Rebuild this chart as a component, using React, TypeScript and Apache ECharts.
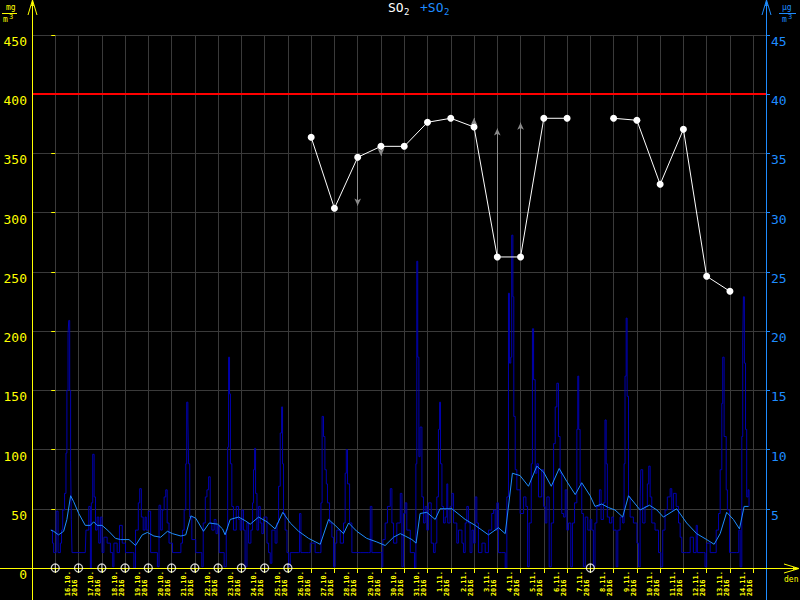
import React, { useEffect, useRef } from 'react';
import * as echarts from 'echarts';

// ---- data -------------------------------------------------------------
const dayLabels = [
  '16.10.', '17.10.', '18.10.', '19.10.', '20.10.', '21.10.', '22.10.', '23.10.',
  '24.10.', '25.10.', '26.10.', '27.10.', '28.10.', '29.10.', '30.10.', '31.10.',
  '1.11.', '2.11.', '3.11.', '4.11.', '5.11.', '6.11.', '7.11.', '8.11.',
  '9.11.', '10.11.', '11.11.', '12.11.', '13.11.', '14.11.',
];
const yearLabel = '2016';

// daily SO2 (left axis), index = day from 16.10.
const dailySO2: (number | null)[] = [
  null, null, null, null, null, null, null, null, null, null, null,
  363.6, 303.7, 346.8, 356, 356, 376.3, 379.7, 372.3, 262.6, 262.6,
  379.7, 379.7, null, 379.7, 378, 324, 370.4, 246.3, 233.6,
];

// change arrows: [day, from, to]
const changeArrows: [number, number, number][] = [
  [13, 346.8, 306],
  [14, 356, 348],
  [18, 372.3, 380],
  [19, 262.6, 371],
  [20, 262.6, 376],
];

const limitValue = 400;

// hourly SO2 (right axis, µg/m3), [day offset, value]
const hourlySO2: [number, number][] = [
  [-0.19, 3.2], [-0.12, 2.1], [-0.07, 1.3], [0.04, 4.8], [0.12, 1.3], [0.22, 2.1], [0.27, 3.2], [0.32, 4.9],
  [0.40, 6.3], [0.46, 9.7], [0.50, 15.0], [0.55, 19.8], [0.58, 20.9], [0.62, 15.0], [0.66, 9.1], [0.69, 4.1],
  [0.72, 1.3], [1.01, 1.3], [1.29, 1.3], [1.32, 3.2], [1.44, 5.2], [1.51, 0], [1.55, 5.5], [1.61, 9.6],
  [1.67, 6.0], [1.73, 3.2], [1.80, 4.3], [1.87, 2.1], [1.94, 4.3], [2.01, 1.3], [2.09, 2.6], [2.23, 2.1],
  [2.37, 1.3], [2.47, 0.1], [2.52, 2.1], [2.66, 1.3], [2.76, 3.6], [2.88, 2.1], [3.02, 1.3], [3.31, 1.3],
  [3.38, 0], [3.45, 3.2], [3.57, 5.5], [3.63, 6.7], [3.70, 4.3], [3.78, 3.2], [3.86, 4.3], [3.91, 3.2],
  [4.00, 4.8], [4.10, 1.3], [4.24, 1.3], [4.39, 0.1], [4.46, 5.3], [4.53, 3.2], [4.60, 4.9], [4.68, 6.0],
  [4.75, 6.6], [4.81, 3.8], [4.89, 2.1], [5.04, 1.3], [5.32, 1.3], [5.40, 2.1], [5.47, 3.2], [5.54, 4.9],
  [5.61, 8.8], [5.65, 14.0], [5.70, 12.5], [5.73, 8.8], [5.78, 4.3], [5.87, 2.4], [6.04, 1.3], [6.26, 1.3],
  [6.30, 0.1], [6.36, 3.8], [6.45, 6.0], [6.52, 6.6], [6.59, 7.7], [6.66, 3.8], [6.73, 3.2], [6.83, 4.1],
  [6.91, 2.9], [6.98, 3.6], [7.05, 1.3],
  [7.26, 0.1], [7.35, 3.2], [7.41, 10.2], [7.45, 17.8], [7.49, 14.7], [7.53, 8.8], [7.59, 5.2], [7.66, 3.2],
  [7.78, 5.2], [7.88, 4.1], [7.95, 3.2], [8.02, 4.9], [8.09, 3.2], [8.16, 0.1], [8.24, 3.8], [8.31, 2.1],
  [8.41, 3.2], [8.48, 5.5], [8.52, 8.3], [8.57, 10.1], [8.61, 6.3], [8.67, 3.2], [8.74, 5.2], [8.81, 3.8],
  [8.88, 2.9], [8.95, 4.3], [9.10, 2.1], [9.17, 1.3], [9.24, 0.4], [9.31, 3.2], [9.45, 2.1], [9.53, 3.8],
  [9.60, 6.9], [9.67, 11.4], [9.73, 13.6], [9.77, 8.8], [9.81, 4.6], [9.88, 3.2], [9.96, 1.3], [10.03, 0.1],
  [10.10, 1.3], [10.46, 1.3], [10.50, 4.6], [10.56, 1.3], [10.89, 1.3], [10.96, 2.1], [11.17, 1.3], [11.36, 1.3],
  [11.42, 5.5], [11.47, 12.8], [11.53, 11.1], [11.59, 8.3], [11.65, 7.1], [11.70, 5.5], [11.79, 3.8], [11.89, 2.6],
  [11.96, 0.1], [12.03, 2.1], [12.10, 3.2], [12.25, 2.1], [12.39, 3.8], [12.46, 8.0], [12.51, 10.0], [12.56, 7.1],
  [12.65, 3.8], [12.75, 1.3], [13.11, 1.3], [13.47, 1.3], [13.54, 5.2], [13.61, 1.3], [13.97, 1.3], [14.04, 0.1],
  [14.08, 2.4], [14.18, 3.8], [14.28, 5.2], [14.40, 6.7], [14.47, 3.8], [14.54, 2.1], [14.68, 3.8], [14.83, 6.3],
  [14.90, 0.1], [14.97, 4.6], [15.04, 5.5], [15.11, 3.2], [15.26, 1.3],
  [15.33, 1.3], [15.44, 0], [15.50, 8.8], [15.54, 25.9], [15.58, 17.8], [15.63, 9.4], [15.68, 11.9], [15.76, 6.0],
  [15.83, 3.8], [15.90, 5.2], [15.97, 3.2], [16.04, 5.5], [16.16, 2.1], [16.26, 1.3], [16.33, 2.1], [16.40, 6.0],
  [16.47, 11.7], [16.52, 14.0], [16.56, 8.8], [16.62, 5.2], [16.69, 3.8], [16.76, 4.3], [16.83, 7.1], [16.87, 3.8],
  [16.97, 5.2], [17.05, 6.3], [17.12, 3.8], [17.26, 2.1], [17.33, 3.2], [17.48, 2.1], [17.55, 1.3], [17.62, 3.8],
  [17.69, 5.2], [17.76, 3.8], [17.83, 1.3], [17.91, 3.2], [17.98, 2.1], [18.05, 6.0], [18.12, 3.8], [18.19, 1.3],
  [18.34, 2.1], [18.48, 1.3], [18.62, 3.2], [18.76, 4.6], [18.84, 4.9], [18.91, 3.2], [18.98, 5.5], [19.05, 1.3],
  [19.19, 1.3], [19.34, 0], [19.41, 6.0], [19.48, 23.2], [19.52, 17.3], [19.58, 17.8], [19.62, 28.1], [19.67, 22.9],
  [19.71, 12.8], [19.77, 8.3], [19.84, 6.6], [19.98, 4.6], [20.13, 6.0], [20.23, 5.2], [20.30, 0.1], [20.37, 3.8],
  [20.46, 8.8], [20.51, 20.2], [20.56, 15.9], [20.63, 8.0], [20.70, 8.8], [20.77, 6.0], [20.91, 8.3], [20.99, 5.2],
  [21.06, 3.8], [21.13, 6.0], [21.23, 0.1], [21.32, 3.8], [21.42, 10.5], [21.49, 13.6], [21.56, 15.6], [21.63, 11.1],
  [21.70, 8.0], [21.77, 4.6], [21.85, 4.3], [21.92, 6.6], [21.99, 3.2], [22.06, 3.8], [22.16, 0.1], [22.23, 3.8],
  [22.32, 5.5], [22.42, 11.7], [22.46, 16.2], [22.50, 11.7], [22.56, 7.1], [22.63, 4.6], [22.70, 0.1], [22.78, 4.3],
  [22.89, 3.2],
  [22.99, 4.1], [23.06, 3.2], [23.13, 0.1], [23.20, 3.8], [23.28, 5.2], [23.39, 6.6], [23.46, 4.1], [23.56, 5.5],
  [23.63, 12.5], [23.68, 8.8], [23.73, 4.3], [23.82, 3.8], [23.92, 4.3], [23.99, 3.2], [24.11, 0.1], [24.18, 3.2],
  [24.28, 4.3], [24.39, 3.8], [24.45, 8.8], [24.49, 16.2], [24.54, 21.1], [24.58, 14.5], [24.64, 6.0], [24.71, 4.3],
  [24.85, 3.8], [25.00, 2.1], [25.07, 0.1], [25.14, 6.0], [25.17, 8.3], [25.25, 3.8], [25.35, 5.2], [25.45, 7.1],
  [25.51, 8.6], [25.57, 6.0], [25.64, 3.8], [25.78, 3.2], [25.93, 1.3], [26.03, 0.1], [26.11, 3.2], [26.21, 4.9],
  [26.31, 6.0], [26.43, 6.7], [26.50, 4.9], [26.57, 6.3], [26.69, 5.2], [26.79, 3.8], [26.86, 2.6], [26.93, 1.3],
  [27.14, 1.3], [27.29, 2.6], [27.43, 1.3], [27.55, 3.6], [27.60, 1.3], [27.86, 1.3], [27.93, 0.1], [28.00, 2.1],
  [28.15, 1.3], [28.32, 1.3], [28.41, 3.2], [28.51, 4.6], [28.58, 8.3], [28.65, 13.9], [28.69, 17.8], [28.75, 11.1],
  [28.84, 6.6], [28.89, 4.9], [28.98, 1.3], [29.08, 1.3], [29.29, 1.3], [29.38, 3.2], [29.44, 0.1], [29.51, 11.1],
  [29.55, 19.0], [29.58, 22.9], [29.62, 17.3], [29.67, 11.7], [29.72, 6.0], [29.78, 6.6], [29.82, 5.2],
];

// running average SO2 (right axis, µg/m3)
const avgSO2: [number, number][] = [
  [-0.19, 3.2], [-0.07, 3.1], [0.14, 2.8], [0.36, 3.1], [0.50, 4.1], [0.66, 6.1], [0.79, 5.6], [1.01, 4.6],
  [1.29, 3.6], [1.51, 3.6], [1.65, 3.9], [1.80, 3.6], [2.01, 3.6], [2.30, 3.1], [2.59, 2.5], [2.81, 2.4],
  [3.17, 2.4], [3.45, 1.9], [3.74, 2.8], [3.96, 3.0], [4.24, 2.7], [4.53, 2.6], [4.82, 3.1], [5.04, 2.9],
  [5.40, 2.7], [5.61, 2.8], [5.83, 4.4], [6.04, 4.2], [6.37, 3.1], [6.62, 3.8], [6.98, 3.7], [7.19, 3.3],
  [7.30, 2.8], [7.52, 4.1], [7.88, 4.3], [8.16, 4.0], [8.38, 3.7], [8.74, 4.3], [9.10, 3.9], [9.45, 3.3],
  [9.78, 4.7], [10.10, 3.8], [10.46, 3.1], [10.89, 2.5], [11.39, 2.0], [11.75, 4.1], [12.03, 3.6], [12.39, 2.9],
  [12.61, 3.8], [12.96, 3.1], [13.39, 2.5], [13.82, 2.2], [14.18, 1.9], [14.54, 2.6], [14.83, 2.9], [15.04, 2.7],
  [15.33, 2.4], [15.51, 2.1], [15.68, 4.6], [15.97, 4.7], [16.33, 4.1], [16.54, 5.0], [17.05, 5.0], [17.62, 4.1],
  [18.05, 3.6], [18.62, 2.8], [19.05, 3.4], [19.34, 2.9], [19.65, 8.0], [19.98, 7.8], [20.34, 6.9], [20.70, 8.6],
  [20.99, 8.1], [21.32, 6.9], [21.66, 8.4], [21.99, 7.3], [22.35, 6.2], [22.63, 7.2], [22.99, 6.1], [23.20, 5.2],
  [23.49, 5.4], [23.78, 5.1], [24.06, 4.9], [24.39, 4.3], [24.64, 6.1], [25.14, 4.9], [25.54, 5.3], [25.86, 4.9],
  [26.14, 4.3], [26.71, 5.0], [27.14, 3.8], [27.57, 2.9], [28.00, 2.4], [28.32, 2.0], [28.58, 2.9], [28.86, 4.7],
  [29.15, 4.1], [29.41, 3.3], [29.61, 5.2], [29.80, 5.2],
];

// axis ranges
const leftAxis = { min: 0, max: 450, interval: 50 };
const rightAxis = { min: 0, max: 45, interval: 5 };
const dayAxis = { min: -1, max: 30.55, interval: 1 };

// ---- styling ----------------------------------------------------------
const YELLOW = '#ffff00';
const BLUE = '#1e8cff';
const NAVY = '#0000b0';
const GRID = '#3a3a3a';
const MONO = '"DejaVu Sans Mono", monospace';

export default function App() {
  const ref = useRef<HTMLDivElement>(null);

  useEffect(() => {
    const chart = echarts.init(ref.current!, null, { renderer: 'svg' });

    const dailyPoints = dailySO2.map((v, i) => [i, v]);
    const missingDays = dailySO2
      .map((v, i) => (v == null ? [i, 0] : null))
      .filter((p) => p !== null);

    const option: any = {
      animation: false,
      backgroundColor: '#000',
      grid: [
        { left: 32, right: 34, top: 35, bottom: 32 },
        { left: 60, right: 42, top: 35, bottom: 32, show: false },
      ],
      xAxis: [
        {
          type: 'value',
          gridIndex: 0,
          min: dayAxis.min,
          max: dayAxis.max,
          interval: dayAxis.interval,
          axisLine: { show: false },
          axisTick: { show: true, length: 5, lineStyle: { color: YELLOW } },
          axisLabel: { show: false },
          splitLine: { show: true, lineStyle: { color: GRID, width: 1 } },
        },
        {
          type: 'category',
          gridIndex: 1,
          data: dayLabels,
          boundaryGap: true,
          axisLine: { show: false },
          axisTick: { show: false },
          splitLine: { show: false },
          axisLabel: {
            interval: 0,
            rotate: 90,
            margin: 3,
            color: YELLOW,
            fontFamily: MONO,
            fontSize: 7,
            fontWeight: 'bold',
            lineHeight: 7,
            formatter: (v: string) => `${v}\n${yearLabel}  `,
          },
        },
      ],
      yAxis: [
        {
          type: 'value',
          gridIndex: 0,
          position: 'left',
          min: leftAxis.min,
          max: leftAxis.max,
          interval: leftAxis.interval,
          axisLine: { show: false },
          axisTick: { show: true, length: 4, lineStyle: { color: YELLOW } },
          axisLabel: {
            color: YELLOW,
            fontFamily: MONO,
            fontSize: 13,
            margin: 5,
            verticalAlign: 'top',
          },
          splitLine: { show: true, lineStyle: { color: GRID, width: 1 } },
        },
        {
          type: 'value',
          gridIndex: 0,
          position: 'right',
          min: rightAxis.min,
          max: rightAxis.max,
          interval: rightAxis.interval,
          axisLine: { show: false },
          axisTick: { show: true, length: 4, lineStyle: { color: BLUE } },
          axisLabel: {
            color: BLUE,
            fontFamily: MONO,
            fontSize: 13,
            margin: 5,
            verticalAlign: 'top',
            formatter: (v: number) => (v === 0 ? '' : String(v)),
          },
          splitLine: { show: false },
        },
        {
          type: 'value',
          gridIndex: 1,
          position: 'right',
          min: 0,
          max: 1,
          show: false,
          axisLine: { show: false },
          axisTick: { show: false },
          axisLabel: { show: false },
          splitLine: { show: false },
        },
      ],
      series: [
        {
          name: '+SO2 hourly',
          type: 'line',
          xAxisIndex: 0,
          yAxisIndex: 1,
          step: 'end',
          data: hourlySO2,
          symbol: 'none',
          lineStyle: { color: NAVY, width: 1 },
          z: 3,
        },
        {
          name: '+SO2 average',
          type: 'line',
          xAxisIndex: 0,
          yAxisIndex: 1,
          data: avgSO2,
          symbol: 'none',
          lineStyle: { color: BLUE, width: 1 },
          z: 4,
        },
        {
          name: 'SO2 daily',
          type: 'line',
          xAxisIndex: 0,
          yAxisIndex: 0,
          data: dailyPoints,
          symbol: 'circle',
          symbolSize: 7,
          showSymbol: true,
          connectNulls: false,
          itemStyle: { color: '#ffffff' },
          lineStyle: { color: '#ffffff', width: 1 },
          z: 6,
          markLine: {
            silent: true,
            symbol: ['none', 'arrow'],
            symbolSize: [5, 7],
            label: { show: false },
            lineStyle: { color: '#8a8a8a', width: 1, type: 'solid' },
            data: changeArrows.map(([d, a, b]) => [
              { coord: [d, a] },
              { coord: [d, b] },
            ]),
          },
        },
        {
          name: 'missing days',
          type: 'scatter',
          xAxisIndex: 0,
          yAxisIndex: 0,
          data: missingDays,
          symbol: 'circle',
          symbolSize: 8,
          clip: false,
          itemStyle: { color: 'rgba(0,0,0,0)', borderColor: '#ffffff', borderWidth: 1.3 },
          z: 20,
          markLine: {
            silent: true,
            symbol: 'none',
            label: { show: false },
            lineStyle: { color: '#ff0000', width: 2, type: 'solid' },
            data: [{ yAxis: limitValue }],
          },
        },
        {
          name: 'missing days mark',
          type: 'scatter',
          xAxisIndex: 0,
          yAxisIndex: 0,
          data: missingDays,
          symbol: 'rect',
          symbolSize: [1, 8],
          clip: false,
          itemStyle: { color: '#ffffff' },
          z: 21,
        },
      ],
      graphic: [
        // axis lines extended across the page
        { type: 'line', z: 15, shape: { x1: 32.5, y1: 0, x2: 32.5, y2: 600 }, style: { stroke: YELLOW, lineWidth: 1 } },
        { type: 'line', z: 15, shape: { x1: 766.5, y1: 0, x2: 766.5, y2: 600 }, style: { stroke: BLUE, lineWidth: 1 } },
        { type: 'line', z: 15, shape: { x1: 0, y1: 568.5, x2: 798, y2: 568.5 }, style: { stroke: YELLOW, lineWidth: 1 } },
        // arrows
        { type: 'polyline', z: 15, shape: { points: [[28, 15], [32.5, 0], [37, 15]] }, style: { stroke: YELLOW, lineWidth: 1, fill: 'none' } },
        { type: 'polygon', z: 15, shape: { points: [[31, 6], [32.5, 0], [34, 6]] }, style: { fill: YELLOW } },
        { type: 'polyline', z: 15, shape: { points: [[762, 15], [766.5, 0], [771, 15]] }, style: { stroke: BLUE, lineWidth: 1, fill: 'none' } },
        { type: 'polygon', z: 15, shape: { points: [[765, 6], [766.5, 0], [768, 6]] }, style: { fill: BLUE } },
        { type: 'polyline', z: 15, shape: { points: [[784, 564], [799, 568.5], [784, 573]] }, style: { stroke: YELLOW, lineWidth: 1, fill: 'none' } },
        { type: 'polygon', z: 15, shape: { points: [[793, 567], [799, 568.5], [793, 570]] }, style: { fill: YELLOW } },
        // units
        { type: 'text', x: 6, y: 3, style: { text: 'mg', fill: YELLOW, font: `8px ${MONO}`, verticalAlign: 'top' } },
        { type: 'line', shape: { x1: 2, y1: 13.5, x2: 17, y2: 13.5 }, style: { stroke: YELLOW, lineWidth: 1 } },
        { type: 'text', x: 3, y: 15, style: { text: 'm', fill: YELLOW, font: `8px ${MONO}`, verticalAlign: 'top' } },
        { type: 'text', x: 9, y: 13, style: { text: '3', fill: YELLOW, font: `7px ${MONO}`, verticalAlign: 'top' } },
        { type: 'text', x: 782, y: 3, style: { text: 'µg', fill: BLUE, font: `8px ${MONO}`, verticalAlign: 'top' } },
        { type: 'line', shape: { x1: 779, y1: 13.5, x2: 796, y2: 13.5 }, style: { stroke: BLUE, lineWidth: 1 } },
        { type: 'text', x: 782, y: 15, style: { text: 'm', fill: BLUE, font: `8px ${MONO}`, verticalAlign: 'top' } },
        { type: 'text', x: 788, y: 13, style: { text: '3', fill: BLUE, font: `7px ${MONO}`, verticalAlign: 'top' } },
        { type: 'text', x: 784, y: 575, style: { text: 'den', fill: YELLOW, font: `8px ${MONO}`, verticalAlign: 'top' } },
        // title
        { type: 'text', x: 388, y: 1, style: { text: 'SO', fill: '#ffffff', font: `13px ${MONO}`, verticalAlign: 'top' } },
        { type: 'text', x: 404, y: 7, style: { text: '2', fill: '#ffffff', font: `9px ${MONO}`, verticalAlign: 'top' } },
        { type: 'text', x: 420, y: 1, style: { text: '+SO', fill: BLUE, font: `13px ${MONO}`, verticalAlign: 'top' } },
        { type: 'text', x: 444, y: 7, style: { text: '2', fill: BLUE, font: `9px ${MONO}`, verticalAlign: 'top' } },
      ],
    };

    chart.setOption(option);
    return () => chart.dispose();
  }, []);

  return (
    <div
      ref={ref}
      style={{ position: 'fixed', left: 0, top: 0, width: 800, height: 600, background: '#000' }}
    />
  );
}
